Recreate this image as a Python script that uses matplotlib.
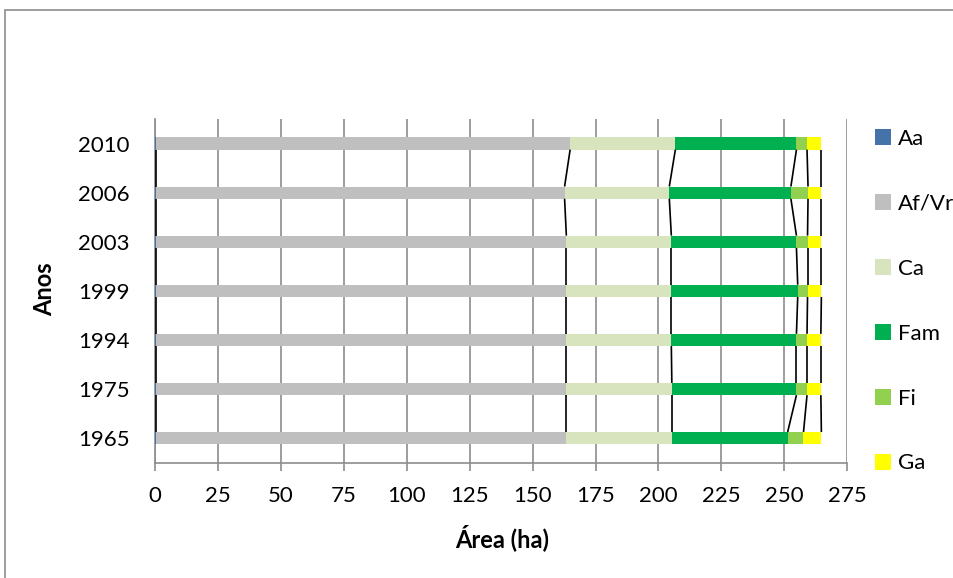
import matplotlib
matplotlib.use("Agg")
import matplotlib.pyplot as plt
from matplotlib.patches import Rectangle, Patch
import numpy as np

plt.rcParams['font.family'] = ['Lato', 'DejaVu Sans']

anos = ["1965", "1975", "1994", "1999", "2003", "2006", "2010"]
series = ["Aa", "Af/Vr", "Ca", "Fam", "Fi", "Ga"]

aa = [0.3, 0.3, 0.3, 0.3, 0.3, 0.3, 0.3]
af_vr = [163.1, 163.1, 163.1, 163.1, 163.1, 162.4, 164.6]
ca = [41.9, 41.9, 41.7, 41.7, 41.7, 41.6, 41.8]
fam = [46.0, 49.5, 49.7, 50.2, 49.7, 48.3, 48.1]
fi = [6.3, 4.2, 4.2, 3.9, 4.4, 6.8, 4.2]
ga = [7.1, 5.5, 5.5, 5.5, 5.5, 5.3, 5.7]

colors = ["#4672AA", "#BFBFBF", "#D7E4BD", "#00B050", "#92D050", "#FFFF00"]
values = [aa, af_vr, ca, fam, fi, ga]

W, H = 954, 578
fig = plt.figure(figsize=(W / 100, H / 100), dpi=100)

# chart frame (extends past the lower/right edge)
fig.patches.append(Rectangle((5 / W, -0.05), 1.2, (H - 10) / H + 0.05,
                             transform=fig.transFigure, fill=False,
                             edgecolor="#8C8C8C", linewidth=1.2, zorder=0))

ax = fig.add_axes([155 / W, (H - 462.7) / H, (847.3 - 155) / W, (462.7 - 119) / H])

y = np.arange(len(anos))
bh = 0.25
left = np.zeros(len(anos))
bounds = []
for name, vals, c in zip(series, values, colors):
    v = np.array(vals)
    ax.barh(y, v, left=left, height=bh, color=c, edgecolor="none", zorder=3, label=name)
    left = left + v
    bounds.append(left.copy())

# series lines joining the segment ends of neighbouring bars
for b in bounds:
    for i in range(len(anos) - 1):
        ax.plot([b[i], b[i + 1]], [y[i] + bh / 2, y[i + 1] - bh / 2],
                color="black", linewidth=1.2, zorder=4, solid_capstyle="butt")

ax.set_xlim(0, 275)
ax.set_ylim(-0.5, len(anos) - 0.5)
ax.set_xticks(np.arange(0, 276, 25))
ax.set_yticks(y)
ax.set_yticklabels(anos)
ax.grid(axis="x", color="#8C8C8C", linewidth=1.2, zorder=1)
ax.set_axisbelow(True)

for s in ["top", "right"]:
    ax.spines[s].set_visible(False)
for s in ["left", "bottom"]:
    ax.spines[s].set_color("#8C8C8C")
    ax.spines[s].set_linewidth(1.2)

ax.tick_params(axis="x", length=6, width=1.2, color="#8C8C8C", pad=11, labelsize=16)
ax.tick_params(axis="y", length=0, pad=18, labelsize=16)

fig.text(45 / W, 1 - 289 / H, "Anos", rotation=90, ha="center", va="center",
         fontsize=17, fontweight="bold")
fig.text(502 / W, 1 - 538 / H, "Área (ha)", ha="center", va="center",
         fontsize=17, fontweight="bold")

handles = [Patch(facecolor=c, edgecolor="none") for c in colors]
fig.legend(handles, series, loc="upper left", bbox_to_anchor=(875 / W, 1 - 129 / H),
           frameon=False, fontsize=16, labelspacing=2.02, handlelength=0.72,
           handleheight=0.72, handletextpad=0.3, borderaxespad=0, borderpad=0)

fig.savefig("out.png", dpi=100)
